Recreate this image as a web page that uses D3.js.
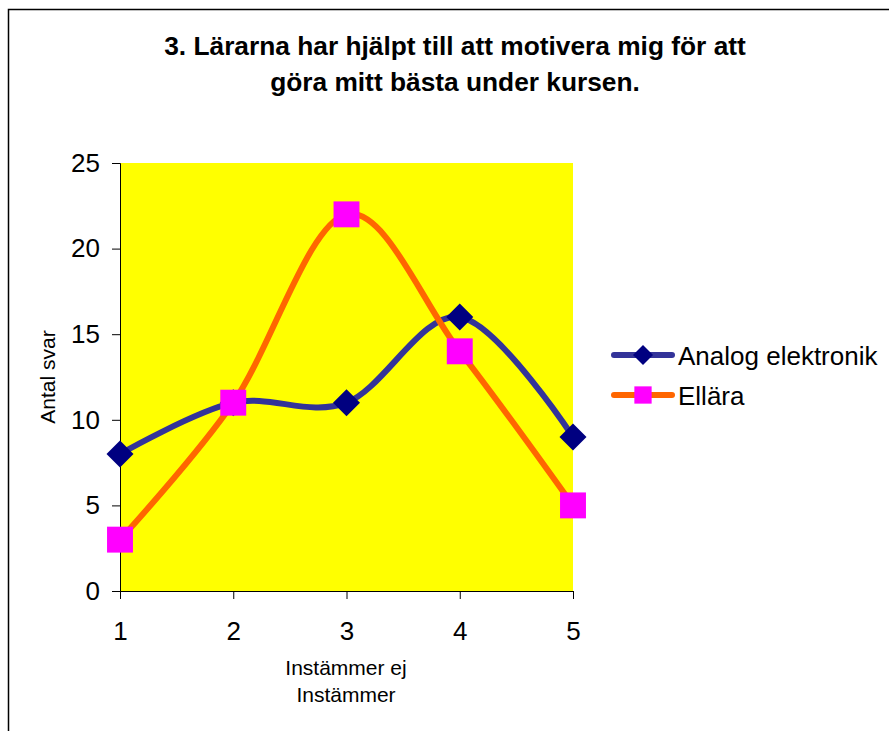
<!DOCTYPE html>
<html>
<head>
<meta charset="utf-8">
<script src="https://cdn.jsdelivr.net/npm/d3@7"></script>
<style>
  html, body { margin: 0; padding: 0; background: #fff; }
  svg { display: block; font-family: "Liberation Sans", Arial, sans-serif; }
</style>
</head>
<body>
<svg id="chart" width="889" height="731"></svg>
<script>
// Survey answers per scale step (1 = Instämmer ej ... 5 = Instämmer)
const categories = [1, 2, 3, 4, 5];
const analogValues = [8, 11, 11, 16, 9];
const ellaraValues = [3, 11, 22, 14, 5];
const yTicks = [0, 5, 10, 15, 20, 25];
const titleLines = ["3. Lärarna har hjälpt till att motivera mig för att", "göra mitt bästa under kursen."];
const xTitleLines = ["Instämmer ej", "Instämmer"];
const yTitle = "Antal svar";

const series = [
  { name: "Analog elektronik", values: analogValues, line: "#333399", marker: "#000080", shape: "diamond" },
  { name: "Ellära", values: ellaraValues, line: "#FF6600", marker: "#FF00FF", shape: "square" }
];

const svg = d3.select("#chart");

// outer chart border
svg.append("rect")
  .attr("x", 8.5).attr("y", 9.5).attr("width", 900).attr("height", 760)
  .attr("fill", "none").attr("stroke", "#000").attr("stroke-width", 1.5);

const plot = { left: 120, right: 573, top: 163, bottom: 591 };

const x = d3.scaleLinear().domain([1, 5]).range([plot.left, plot.right]);
const y = d3.scaleLinear().domain([0, 25]).range([plot.bottom, plot.top]);

// title
svg.append("text")
  .attr("text-anchor", "middle")
  .attr("font-weight", "bold").attr("font-size", 26.3)
  .selectAll("tspan").data(titleLines).join("tspan")
  .attr("x", 455).attr("y", (d, i) => 55 + i * 36)
  .text(d => d);

// plot background
svg.append("rect")
  .attr("x", plot.left).attr("y", plot.top)
  .attr("width", plot.right - plot.left).attr("height", plot.bottom - plot.top)
  .attr("fill", "#FFFF00");

// axes
const yAxis = d3.axisLeft(y).tickValues(yTicks).tickSize(8).tickPadding(12);
const xAxis = d3.axisBottom(x).tickValues(categories).tickFormat(d3.format("d"))
  .tickSize(8).tickPadding(23);

const gy = svg.append("g").attr("transform", `translate(${plot.left},0)`).call(yAxis);
const gx = svg.append("g").attr("transform", `translate(0,${plot.bottom})`).call(xAxis);
[gx, gy].forEach(g => {
  g.attr("font-family", null).attr("font-size", null);
  g.select(".domain").attr("stroke", "#000").attr("stroke-width", 1);
  g.selectAll(".tick line").attr("stroke", "#000");
  g.selectAll(".tick text").attr("font-size", 26).attr("fill", "#000");
});

// axis titles
svg.append("text")
  .attr("transform", "translate(55,377) rotate(-90)")
  .attr("text-anchor", "middle").attr("font-size", 21)
  .text(yTitle);

svg.append("text")
  .attr("text-anchor", "middle").attr("font-size", 21)
  .selectAll("tspan").data(xTitleLines).join("tspan")
  .attr("x", 346).attr("y", (d, i) => 675 + i * 27)
  .text(d => d);

// smoothed series lines
const line = d3.line()
  .x((d, i) => x(categories[i]))
  .y(d => y(d))
  .curve(d3.curveCardinal.tension(0));

function drawMarker(g, shape, color, cx, cy, size) {
  if (shape === "diamond") {
    const r = size / 2;
    g.append("path")
      .attr("d", `M${cx},${cy - r}L${cx + r},${cy}L${cx},${cy + r}L${cx - r},${cy}Z`)
      .attr("fill", color);
  } else {
    const s = size * 0.96;
    g.append("rect")
      .attr("x", cx - s / 2).attr("y", cy - s / 2)
      .attr("width", s).attr("height", s)
      .attr("fill", color);
  }
}

series.forEach(s => {
  const g = svg.append("g");
  g.append("path")
    .attr("d", line(s.values))
    .attr("fill", "none")
    .attr("stroke", s.line)
    .attr("stroke-width", 6)
    .attr("stroke-linecap", "round");
  s.values.forEach((v, i) => drawMarker(g, s.shape, s.marker, x(categories[i]), y(v), 27));
});

// legend
const legend = svg.append("g");
series.forEach((s, i) => {
  const ly = 355 + i * 40;
  const g = legend.append("g");
  g.append("line")
    .attr("x1", 614).attr("x2", 672).attr("y1", ly).attr("y2", ly)
    .attr("stroke", s.line).attr("stroke-width", 6).attr("stroke-linecap", "round");
  drawMarker(g, s.shape, s.marker, 643, ly, s.shape === "diamond" ? 20 : 18);
  g.append("text")
    .attr("x", 678).attr("y", ly + 10)
    .attr("font-size", 26)
    .text(s.name);
});
</script>
</body>
</html>
